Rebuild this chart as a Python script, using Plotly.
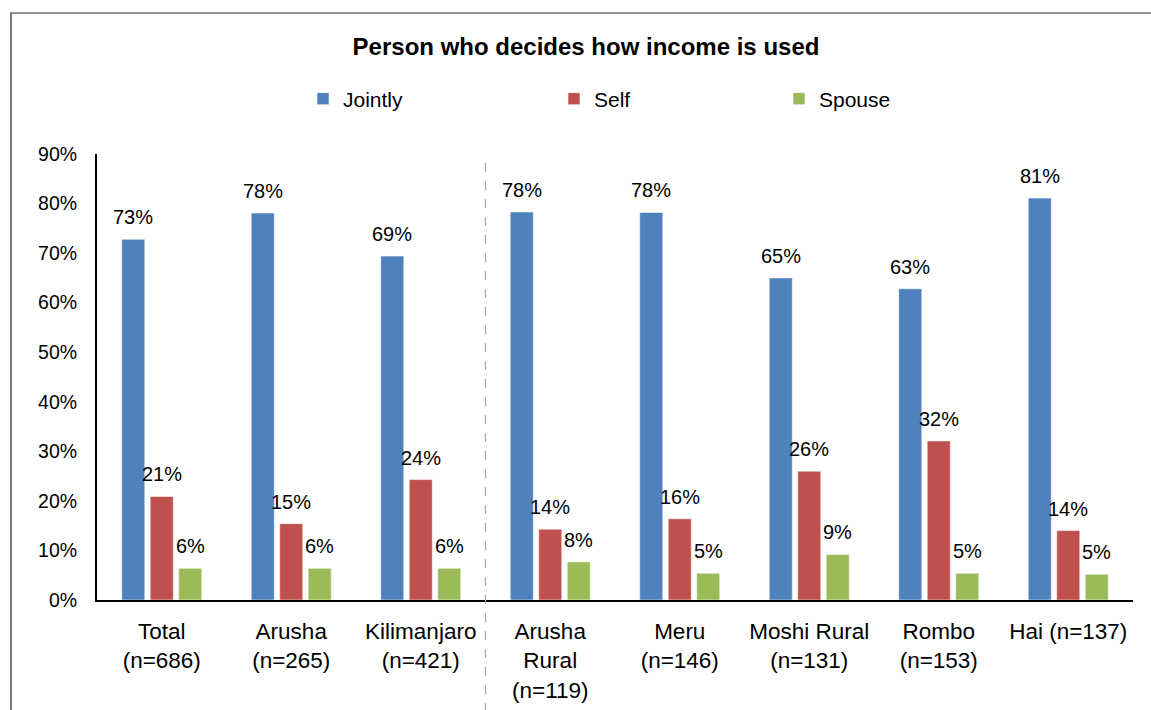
import plotly.graph_objects as go

# Survey results: who decides how income is used, by region/district
categories = [
    "Total<br>(n=686)",
    "Arusha<br>(n=265)",
    "Kilimanjaro<br>(n=421)",
    "Arusha<br>Rural<br>(n=119)",
    "Meru<br>(n=146)",
    "Moshi Rural<br>(n=131)",
    "Rombo<br>(n=153)",
    "Hai (n=137)",
]
jointly = [72.8, 78.1, 69.4, 78.3, 78.2, 65.0, 62.8, 81.1]
self_ = [20.9, 15.4, 24.3, 14.3, 16.4, 26.0, 32.1, 14.0]
spouse = [6.4, 6.4, 6.4, 7.7, 5.4, 9.2, 5.4, 5.2]

series = [
    ("Jointly", jointly, "#4F81BD", "legend", 324),
    ("Self", self_, "#C0504D", "legend2", 575),
    ("Spouse", spouse, "#9BBB59", "legend3", 800),
]
y_ticks = [0, 10, 20, 30, 40, 50, 60, 70, 80, 90]
tick_text = [f"{t}%" for t in y_ticks]

W, H = 1151, 710
L, R, T, B = 97, 18, 154, 110
FONT = "Arial, Liberation Sans, sans-serif"

fig = go.Figure()
for name, vals, color, leg, _ in series:
    fig.add_trace(go.Bar(
        name=name, x=categories, y=vals,
        marker=dict(color=color, line=dict(color="rgba(255,255,255,0.7)", width=0.8)),
        legend=leg, showlegend=True,
    ))

# value labels above every bar
bar_offsets = [-28.5, 0, 28.5]
annotations = []
for (name, vals, color, leg, _), dx in zip(series, bar_offsets):
    for c, v in zip(categories, vals):
        annotations.append(dict(
            x=c, y=v, xref="x", yref="y", text=f"{v:.0f}%",
            showarrow=False, xanchor="center", yanchor="bottom",
            xshift=dx, yshift=9,
            font=dict(family=FONT, size=20, color="#000000"),
        ))

legend_common = dict(
    orientation="h", xref="container", yref="container",
    yanchor="middle", xanchor="left", bgcolor="rgba(0,0,0,0)",
    font=dict(family=FONT, size=21, color="#000000"),
    itemwidth=30, traceorder="normal",
)
legends = {}
for name, vals, color, leg, px in series:
    legends[leg] = dict(legend_common, x=(px - 21) / W, y=1 - 99 / H)

# plot-area pixel -> paper coordinates
def px_x(p):
    return (p - L) / (W - L - R)

def px_y(p):
    return (H - B - p) / (H - T - B)

shapes = [
    # outer frame of the chart
    dict(type="rect", xref="paper", yref="paper",
         x0=px_x(11), x1=px_x(1170), y0=px_y(730), y1=px_y(13),
         line=dict(color="#262626", width=1.2), fillcolor="rgba(0,0,0,0)"),
    # separator between regions and districts
    dict(type="line", xref="x", yref="paper", x0=2.5, x1=2.5,
         y0=px_y(712), y1=1.0,
         line=dict(color="#A6A6A6", width=1.2, dash="dash")),
]

fig.update_layout(
    width=W, height=H,
    margin=dict(l=L, r=R, t=T, b=B, autoexpand=False),
    paper_bgcolor="white", plot_bgcolor="white",
    barmode="group", bargap=0.34, bargroupgap=0.19,
    showlegend=True,
    title=dict(text="<b>Person who decides how income is used</b>",
               x=586 / W, xanchor="center", xref="container",
               y=1 - 47 / H, yanchor="middle", yref="container",
               font=dict(family=FONT, size=24, color="#000000")),
    font=dict(family=FONT, color="#000000"),
    annotations=annotations,
    shapes=shapes,
    **legends,
)
fig.update_xaxes(
    showline=True, linecolor="#000000", linewidth=2,
    ticks="", showgrid=False, zeroline=False,
    tickfont=dict(family=FONT, size=22.5, color="#000000"),
    ticklabelstandoff=10,
)
fig.update_yaxes(
    range=[0, 90], tickvals=y_ticks, ticktext=tick_text,
    showline=True, linecolor="#000000", linewidth=2,
    ticks="", showgrid=False, zeroline=False,
    tickfont=dict(family=FONT, size=19.5, color="#000000"),
    ticklabelstandoff=14,
)

fig.write_html("out.html")
